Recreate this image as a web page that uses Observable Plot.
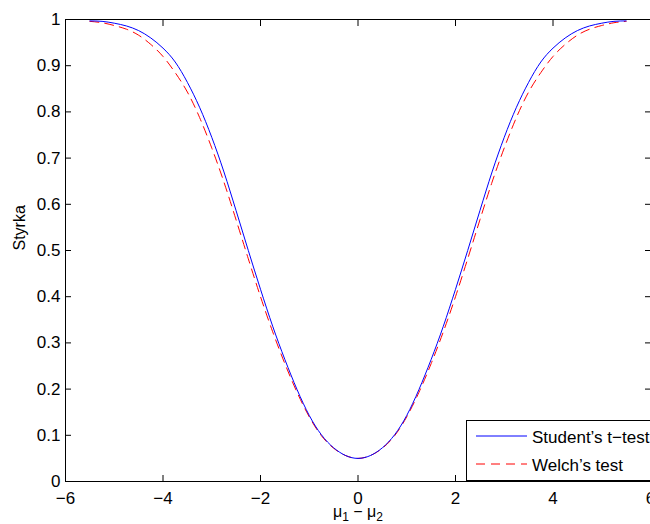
<!DOCTYPE html>
<html><head><meta charset="utf-8">
<script src="https://cdn.jsdelivr.net/npm/d3@7"></script>
<script src="https://cdn.jsdelivr.net/npm/@observablehq/plot@0.6"></script>
<style>body{margin:0;background:#fff} svg{display:block}</style>
</head><body><div id="chart"></div>
<script>
const xValues = [-5.5,-5.25,-5,-4.75,-4.5,-4.25,-4,-3.75,-3.5,-3.25,-3,-2.75,-2.5,-2.25,-2,-1.75,-1.5,-1.25,-1,-0.75,-0.5,-0.25,0,
  0.25,0.5,0.75,1,1.25,1.5,1.75,2,2.25,2.5,2.75,3,3.25,3.5,3.75,4,4.25,4.5,4.75,5,5.25,5.5];
const studentPower = [0.997,0.996,0.992,0.986,0.976,0.960,0.938,0.908,0.864,0.810,0.745,0.670,0.586,0.500,0.416,0.336,0.264,0.199,0.143,0.101,0.073,0.056,0.050,
  0.056,0.073,0.101,0.143,0.199,0.264,0.336,0.416,0.500,0.586,0.670,0.745,0.810,0.864,0.908,0.938,0.960,0.976,0.986,0.992,0.996,0.997];
const welchPower = [0.996,0.993,0.987,0.979,0.966,0.946,0.920,0.885,0.843,0.788,0.722,0.648,0.566,0.482,0.400,0.324,0.255,0.193,0.140,0.099,0.072,0.056,0.050,
  0.056,0.072,0.099,0.140,0.193,0.255,0.324,0.400,0.482,0.566,0.648,0.722,0.788,0.843,0.885,0.920,0.946,0.966,0.979,0.987,0.993,0.996];
const xTicks = [-6,-4,-2,0,2,4,6];
const xTickLabels = ["\u22126","\u22124","\u22122","0","2","4","6"];
const yTicks = [0,0.1,0.2,0.3,0.4,0.5,0.6,0.7,0.8,0.9,1];
const yTickLabels = ["0","0.1","0.2","0.3","0.4","0.5","0.6","0.7","0.8","0.9","1"];
const seriesNames = ["Student\u2019s t\u2212test","Welch\u2019s test"];
const seriesColors = ["#0000ff","#ff0000"];
const xLabelParts = [["\u03bc", false], ["1", true], [" \u2212 \u03bc", false], ["2", true]];
const yLabel = "Styrka";

const student = xValues.map((x,i)=>({x, p: studentPower[i]}));
const welch = xValues.map((x,i)=>({x, p: welchPower[i]}));
const fmtX = d => xTickLabels[xTicks.indexOf(d)];
const fmtY = d => yTickLabels[yTicks.indexOf(d)];
const blank = () => "";
const FONT = "'Liberation Sans', Arial, sans-serif";

const chart = Plot.plot({
  width: 650, height: 524,
  marginLeft: 65, marginRight: 0, marginTop: 19, marginBottom: 43,
  style: {fontFamily: FONT, fontSize: "17px", background: "white", color: "black"},
  x: {domain: [-6, 6], label: null},
  y: {domain: [0, 1], label: null},
  marks: [
    Plot.axisX({anchor: "bottom", ticks: xTicks, tickSize: 0, tickPadding: 10, tickFormat: fmtX, label: null, fontSize: 17}),
    Plot.axisX({anchor: "bottom", ticks: xTicks, tickSize: -6, tickFormat: blank, label: null}),
    Plot.axisX({anchor: "top", ticks: xTicks, tickSize: -6, tickFormat: blank, label: null}),
    Plot.axisY({anchor: "left", ticks: yTicks, tickSize: 0, tickPadding: 5, tickFormat: fmtY, label: null, fontSize: 17}),
    Plot.axisY({anchor: "left", ticks: yTicks, tickSize: -6, tickFormat: blank, label: null}),
    Plot.axisY({anchor: "right", ticks: yTicks, tickSize: -6, tickFormat: blank, label: null}),
    Plot.line(welch, {x: "x", y: "p", stroke: seriesColors[1], strokeWidth: 1, strokeDasharray: "9,6", curve: "natural"}),
    Plot.line(student, {x: "x", y: "p", stroke: seriesColors[0], strokeWidth: 1, curve: "natural"}),
    Plot.frame({stroke: "black", strokeWidth: 1}),
    Plot.text([yLabel], {text: d => d, frameAnchor: "left", dx: -46, rotate: -90, fill: "black", fontSize: 16})
  ]
});
document.getElementById("chart").appendChild(chart);

const svg = d3.select(chart);

// x-axis label with subscripts
const xl = svg.append("text").attr("x", 358).attr("y", 517).attr("text-anchor", "middle")
  .attr("font-family", FONT).attr("font-size", 16).attr("fill", "black");
xLabelParts.forEach(([t, sub], i) => {
  xl.append("tspan").attr("font-size", sub ? 12 : 16).attr("dy", sub ? 4 : (i === 0 ? 0 : -4)).text(t);
});

// legend inside the axes (bottom-right)
const lg = svg.append("g").attr("font-family", FONT).attr("font-size", 17).attr("text-anchor", "start");
lg.append("rect").attr("x", 466.5).attr("y", 420.5).attr("width", 200).attr("height", 60)
  .attr("fill", "white").attr("stroke", "black").attr("stroke-width", 1);
seriesNames.forEach((name, i) => {
  const y = 436 + i * 28;
  lg.append("line").attr("x1", 476).attr("x2", 527).attr("y1", y).attr("y2", y)
    .attr("stroke", seriesColors[i]).attr("stroke-width", 1)
    .attr("stroke-dasharray", i === 1 ? "9,6" : null);
  lg.append("text").attr("x", 532).attr("y", y + 6.5).attr("fill", "black").attr("text-anchor", "start").text(name);
});
</script>
</body></html>
